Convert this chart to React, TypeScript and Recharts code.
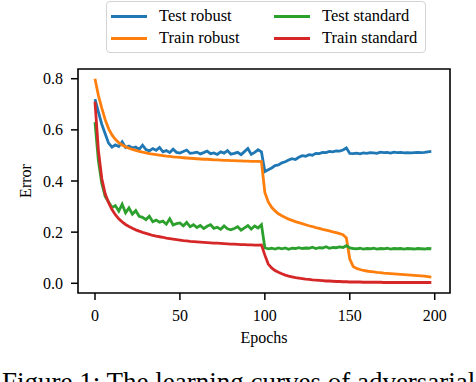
import { LineChart, Line, XAxis, YAxis, ReferenceArea } from 'recharts';

// epochs sampled every 2
const epochs = [
  0, 2, 4, 6, 8, 10, 12, 14, 16, 18, 20, 22, 24, 26, 28, 30, 32, 34, 36, 38,
  40, 42, 44, 46, 48, 50, 52, 54, 56, 58, 60, 62, 64, 66, 68, 70, 72, 74, 76, 78,
  80, 82, 84, 86, 88, 90, 92, 94, 96, 98, 100, 102, 104, 106, 108, 110, 112, 114, 116, 118,
  120, 122, 124, 126, 128, 130, 132, 134, 136, 138, 140, 142, 144, 146, 148, 150, 152, 154, 156, 158,
  160, 162, 164, 166, 168, 170, 172, 174, 176, 178, 180, 182, 184, 186, 188, 190, 192, 194, 196, 198,
];

const testRobust = [
  0.720, 0.670, 0.622, 0.585, 0.548, 0.532, 0.541, 0.535, 0.553, 0.531,
  0.537, 0.529, 0.533, 0.524, 0.540, 0.523, 0.518, 0.527, 0.520, 0.531,
  0.514, 0.519, 0.511, 0.524, 0.512, 0.509, 0.515, 0.521, 0.508, 0.510,
  0.513, 0.506, 0.511, 0.517, 0.507, 0.510, 0.504, 0.514, 0.509, 0.519,
  0.505, 0.508, 0.512, 0.503, 0.515, 0.527, 0.504, 0.512, 0.522, 0.514,
  0.437, 0.444, 0.451, 0.460, 0.463, 0.471, 0.475, 0.482, 0.487, 0.484,
  0.493, 0.499, 0.497, 0.503, 0.501, 0.508, 0.507, 0.512, 0.511, 0.516,
  0.514, 0.518, 0.517, 0.521, 0.529, 0.508, 0.507, 0.509, 0.506, 0.510,
  0.508, 0.511, 0.510, 0.508, 0.513, 0.511, 0.512, 0.509, 0.513, 0.511,
  0.512, 0.510, 0.511, 0.510, 0.511, 0.512, 0.511, 0.512, 0.514, 0.516,
];

const trainRobust = [
  0.800, 0.735, 0.685, 0.640, 0.605, 0.580, 0.563, 0.550, 0.541, 0.534,
  0.528, 0.524, 0.520, 0.516, 0.513, 0.510, 0.507, 0.505, 0.503, 0.501,
  0.499, 0.497, 0.496, 0.494, 0.493, 0.492, 0.491, 0.490, 0.489, 0.488,
  0.487, 0.486, 0.485, 0.485, 0.484, 0.483, 0.483, 0.482, 0.481, 0.481,
  0.480, 0.480, 0.479, 0.479, 0.478, 0.478, 0.477, 0.477, 0.477, 0.476,
  0.355, 0.318, 0.297, 0.283, 0.272, 0.264, 0.257, 0.251, 0.246, 0.241,
  0.237, 0.233, 0.229, 0.225, 0.222, 0.218, 0.215, 0.211, 0.208, 0.205,
  0.201, 0.198, 0.194, 0.190, 0.177, 0.095, 0.066, 0.058, 0.054, 0.050,
  0.048, 0.046, 0.045, 0.043, 0.042, 0.040, 0.039, 0.038, 0.037, 0.036,
  0.035, 0.034, 0.033, 0.032, 0.031, 0.030, 0.029, 0.028, 0.026, 0.024,
];

const testStandard = [
  0.630, 0.480, 0.390, 0.340, 0.318, 0.296, 0.304, 0.282, 0.309, 0.276,
  0.295, 0.270, 0.284, 0.262, 0.258, 0.249, 0.262, 0.241, 0.247, 0.239,
  0.243, 0.231, 0.252, 0.228, 0.233, 0.236, 0.225, 0.238, 0.221, 0.229,
  0.218, 0.226, 0.214, 0.223, 0.229, 0.215, 0.219, 0.211, 0.224, 0.213,
  0.209, 0.214, 0.221, 0.208, 0.217, 0.226, 0.212, 0.224, 0.216, 0.229,
  0.139, 0.135, 0.137, 0.134, 0.138, 0.135, 0.138, 0.133, 0.137, 0.136,
  0.139, 0.136, 0.138, 0.137, 0.141, 0.136, 0.139, 0.138, 0.143, 0.137,
  0.140, 0.139, 0.142, 0.140, 0.147, 0.138, 0.136, 0.135, 0.137, 0.134,
  0.136, 0.135, 0.137, 0.134, 0.136, 0.135, 0.137, 0.134, 0.136, 0.135,
  0.136, 0.134, 0.136, 0.135, 0.134, 0.136, 0.135, 0.134, 0.136, 0.135,
];

const trainStandard = [
  0.710, 0.520, 0.410, 0.350, 0.315, 0.288, 0.268, 0.252, 0.240, 0.230,
  0.222, 0.215, 0.209, 0.204, 0.199, 0.195, 0.191, 0.187, 0.184, 0.182,
  0.180, 0.177, 0.175, 0.173, 0.171, 0.169, 0.167, 0.166, 0.164, 0.163,
  0.162, 0.161, 0.160, 0.159, 0.158, 0.157, 0.157, 0.156, 0.155, 0.154,
  0.153, 0.153, 0.152, 0.151, 0.151, 0.150, 0.150, 0.149, 0.149, 0.150,
  0.110, 0.075, 0.060, 0.050, 0.043, 0.037, 0.032, 0.028, 0.025, 0.022,
  0.020, 0.018, 0.016, 0.015, 0.013, 0.012, 0.011, 0.010, 0.009, 0.009,
  0.008, 0.007, 0.007, 0.006, 0.006, 0.005, 0.005, 0.005, 0.005, 0.004,
  0.004, 0.004, 0.004, 0.004, 0.004, 0.003, 0.003, 0.003, 0.003, 0.003,
  0.003, 0.003, 0.003, 0.003, 0.003, 0.003, 0.003, 0.003, 0.003, 0.003,
];

const xTicks = [0, 50, 100, 150, 200];
const yTicks = [0, 0.2, 0.4, 0.6, 0.8];

const series = [
  { key: 'testRobust', name: 'Test robust', color: '#1f77b4' },
  { key: 'trainRobust', name: 'Train robust', color: '#ff7f0e' },
  { key: 'testStandard', name: 'Test standard', color: '#2ca02c' },
  { key: 'trainStandard', name: 'Train standard', color: '#d62728' },
];

const data = epochs.map((epoch, i) => ({
  epoch,
  testRobust: testRobust[i],
  trainRobust: trainRobust[i],
  testStandard: testStandard[i],
  trainStandard: trainStandard[i],
}));

const FONT = '"Liberation Serif", "Times New Roman", serif';

const X_DOMAIN: [number, number] = [-10, 209];
const Y_DOMAIN: [number, number] = [-0.038, 0.838];

// custom ticks so the serif font really sticks
const XTick = (props: any) => {
  const { x, y, payload } = props;
  return (
    <text x={x} y={y + 11} textAnchor="middle" fontFamily={FONT} fontSize={16} fill="#000">
      {payload.value}
    </text>
  );
};

const YTick = (props: any) => {
  const { x, y, payload } = props;
  return (
    <text x={x} y={y + 5.5} textAnchor="end" fontFamily={FONT} fontSize={16} fill="#000">
      {Number(payload.value).toFixed(1)}
    </text>
  );
};

function ChartLegend() {
  // matplotlib fills columns first: col 1 = robust, col 2 = standard
  const cols = [series.slice(0, 2), series.slice(2, 4)];
  return (
    <div
      style={{
        position: 'absolute',
        left: 106,
        top: 1,
        width: 318,
        height: 50,
        border: '1px solid #d4d4d4',
        borderRadius: 4,
        background: 'rgba(255,255,255,0.8)',
        fontFamily: FONT,
        fontSize: 16.5,
      }}
    >
      {cols.map((col, c) =>
        col.map((s, r) => (
          <div
            key={s.key}
            style={{
              position: 'absolute',
              left: c === 0 ? 4 : 167,
              top: r === 0 ? 3 : 25,
              height: 22,
              display: 'flex',
              alignItems: 'center',
              whiteSpace: 'nowrap',
            }}
          >
            <span style={{ display: 'inline-block', width: 36, height: 3, background: s.color }} />
            <span style={{ marginLeft: 12 }}>{s.name}</span>
          </div>
        ))
      )}
    </div>
  );
}

export default function App() {
  return (
    <div style={{ position: 'absolute', left: 0, top: 0, width: 476, height: 382, overflow: 'hidden', background: '#fff' }}>
      <LineChart
        width={476}
        height={382}
        data={data}
        margin={{ top: 69, right: 26, bottom: 39, left: 0 }}
        style={{ fontFamily: FONT }}
      >
        <XAxis
          dataKey="epoch"
          type="number"
          domain={X_DOMAIN}
          ticks={xTicks}
          allowDataOverflow
          height={50}
          tickSize={7}
          tickMargin={10}
          axisLine={false}
          tickLine={{ stroke: '#000', strokeWidth: 1.5 }}
          tick={<XTick />}
          label={{
            content: () => (
              <text x={264} y={343} textAnchor="middle" fontFamily={FONT} fontSize={16} fill="#000">
                Epochs
              </text>
            ),
          }}
        />
        <YAxis
          type="number"
          domain={Y_DOMAIN}
          ticks={yTicks}
          allowDataOverflow
          width={78}
          tickSize={7}
          tickMargin={8}
          axisLine={false}
          tickLine={{ stroke: '#000', strokeWidth: 1.5 }}
          tick={<YTick />}
          label={{
            content: () => (
              <text
                x={31}
                y={181}
                transform="rotate(-90, 31, 181)"
                textAnchor="middle"
                fontFamily={FONT}
                fontSize={16}
                fill="#000"
              >
                Error
              </text>
            ),
          }}
        />
        {series.map((s) => (
          <Line
            key={s.key}
            type="linear"
            dataKey={s.key}
            name={s.name}
            stroke={s.color}
            strokeWidth={2.8}
            dot={false}
            isAnimationActive={false}
          />
        ))}
        <ReferenceArea
          x1={X_DOMAIN[0]}
          x2={X_DOMAIN[1]}
          y1={Y_DOMAIN[0]}
          y2={Y_DOMAIN[1]}
          fill="none"
          stroke="#000"
          strokeWidth={1.6}
          ifOverflow="visible"
        />
      </LineChart>
      <ChartLegend />
      <svg width={476} height={382} style={{ position: 'absolute', left: 0, top: 0, pointerEvents: 'none' }}>
        <text x={2} y={391} fontFamily={FONT} fontSize={27} fill="#000">
          Figure 1: The learning curves of adversarial
        </text>
      </svg>
    </div>
  );
}
